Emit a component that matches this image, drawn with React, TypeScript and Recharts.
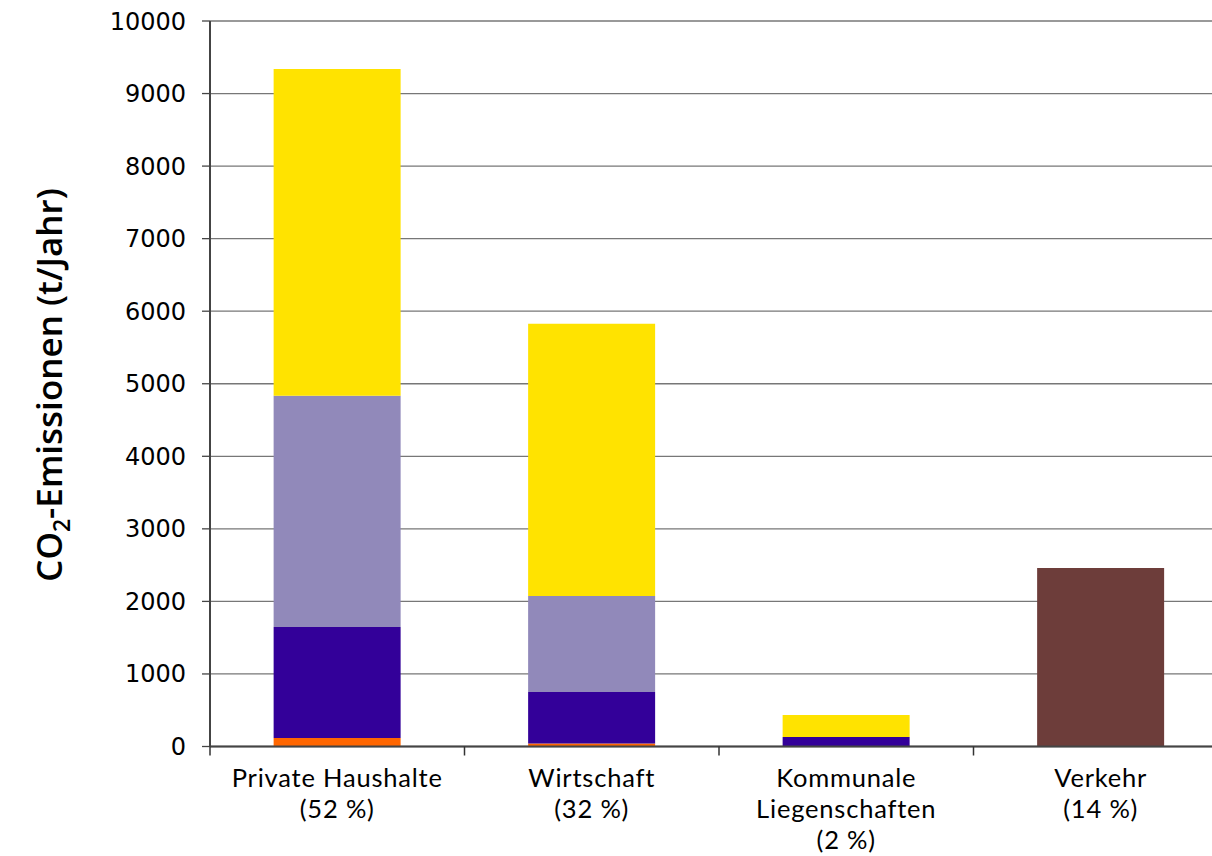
import React from "react";
import { BarChart, Bar, XAxis, YAxis, CartesianGrid } from "recharts";

// categories, as they are printed under the axis (one entry per line)
const categories = ["Private Haushalte", "Wirtschaft", "Kommunale Liegenschaften", "Verkehr"];
const labelLines = [
  ["Private Haushalte", "(52 %)"],
  ["Wirtschaft", "(32 %)"],
  ["Kommunale", "Liegenschaften", "(2 %)"],
  ["Verkehr", "(14 %)"],
];

// stacked segments, bottom to top (t/Jahr)
const orange = [117, 40, 0, 0];
const darkBlue = [1531, 712, 131, 0];
const lavender = [3186, 1324, 0, 0];
const yellow = [4504, 3752, 303, 0];
const brown = [0, 0, 0, 2462];

const yTicks = [0, 1000, 2000, 3000, 4000, 5000, 6000, 7000, 8000, 9000, 10000];

const data = categories.map((name, i) => ({
  name,
  orange: orange[i],
  darkBlue: darkBlue[i],
  lavender: lavender[i],
  yellow: yellow[i],
  brown: brown[i],
}));

const W = 1240;
const H = 856;
const M = { top: 21, right: 12, left: 80, bottom: 0 };
const Y_W = 130;
const BAND = (W - M.left - M.right - Y_W) / categories.length;
const FONT = "'Open Sans', 'Noto Sans', sans-serif";
const LABEL_FONT = "Lato, 'Open Sans', sans-serif";

// category label under the bar plus the tick mark on the category boundary
const XTick = (props: any) => {
  const { x, y, payload } = props;
  const lines = labelLines[payload.index] || [];
  const bx = x - BAND / 2;
  return (
    <g>
      <line x1={bx} x2={bx} y1={y} y2={y + 9} stroke="#333" strokeWidth={1.5} />
      <text
        x={x}
        y={y + 40}
        textAnchor="middle"
        fontFamily={LABEL_FONT}
        fontSize={25.5}
        letterSpacing={0.8}
        fill="#000"
      >
        {lines.map((l, i) => (
          <tspan key={i} x={x} dy={i === 0 ? 0 : 31}>
            {l}
          </tspan>
        ))}
      </text>
    </g>
  );
};

const YLabel = () => (
  <text
    transform="translate(62, 385) rotate(-90)"
    textAnchor="middle"
    fontFamily={FONT}
    fontWeight={600}
    fontSize={35}
    fill="#000"
  >
    CO
    <tspan fontSize={23} dy={8}>2</tspan>
    <tspan dy={-8}>-Emissionen (t/Jahr)</tspan>
  </text>
);

export default function App() {
  return (
    <div
      style={{
        position: "fixed",
        left: 0,
        top: 0,
        width: 1212,
        height: 856,
        overflow: "hidden",
        background: "#fff",
      }}
    >
      <BarChart width={W} height={H} data={data} margin={M} barCategoryGap="25%">
        <CartesianGrid vertical={false} stroke="#777" strokeWidth={1.3} />
        <XAxis
          dataKey="name"
          interval={0}
          height={109.5}
          tickSize={0}
          tickMargin={0}
          tick={<XTick />}
          axisLine={{ stroke: "#444", strokeWidth: 2 }}
        />
        <YAxis
          width={Y_W}
          domain={[0, 10000]}
          ticks={yTicks}
          tickSize={8}
          tickMargin={16}
          interval={0}
          axisLine={{ stroke: "#444", strokeWidth: 2 }}
          tickLine={{ stroke: "#444", strokeWidth: 1.3 }}
          tick={{ fill: "#000", fontSize: 24, fontFamily: "'DejaVu Sans', sans-serif" }}
        />
        <Bar dataKey="orange" stackId="a" fill="#FF6600" isAnimationActive={false} />
        <Bar dataKey="darkBlue" stackId="a" fill="#330099" isAnimationActive={false} />
        <Bar dataKey="lavender" stackId="a" fill="#9189BA" isAnimationActive={false} />
        <Bar dataKey="yellow" stackId="a" fill="#FFE300" isAnimationActive={false} />
        <Bar dataKey="brown" stackId="a" fill="#6D3D3A" isAnimationActive={false} />
        <YLabel />
      </BarChart>
    </div>
  );
}
